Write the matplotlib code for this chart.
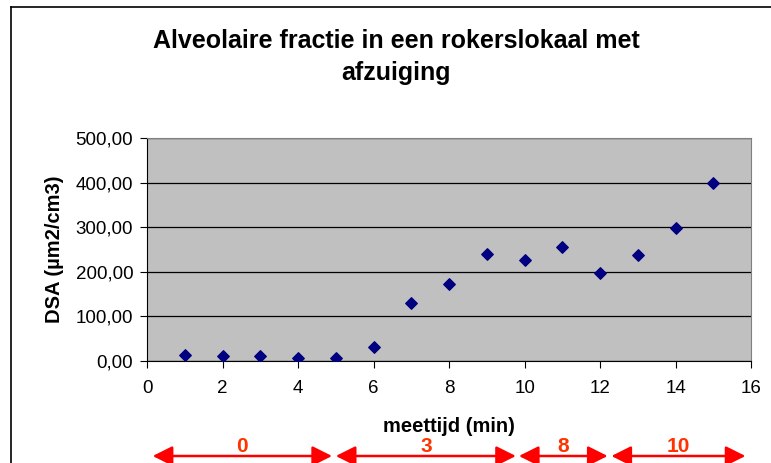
import matplotlib
matplotlib.use('Agg')
import matplotlib.pyplot as plt
import matplotlib.transforms as mtransforms
from matplotlib.ticker import FuncFormatter

plt.rcParams['font.family'] = ['Liberation Sans', 'DejaVu Sans']

# meetwaarden
meettijd = [1, 2, 3, 4, 5, 6, 7, 8, 9, 10, 11, 12, 13, 14, 15]
dsa = [14.4, 10.6, 10.6, 6.8, 6.8, 32.4, 129.7, 172.4, 240.4, 226.3, 255.5, 197.8, 236.8, 298.2, 398.7]

# fasen (aantal sigaretten) onder de x-as
fase_start = [0.15, 5.0, 9.85, 12.3]
fase_eind = [4.9, 9.77, 12.2, 15.85]
fase_label = ['0', '3', '8', '10']

fig = plt.figure(figsize=(7.71, 4.63), dpi=100)
ax = fig.add_axes([0.1907, 0.2203, 0.7835, 0.4817])

ax.set_facecolor('#C0C0C0')
ax.scatter(meettijd, dsa, marker='D', s=34, color='#000080', zorder=3)

ax.set_xlim(0, 16)
ax.set_ylim(0, 500)
ax.set_xticks(range(0, 17, 2))
ax.set_yticks(range(0, 501, 100))
ax.yaxis.set_major_formatter(FuncFormatter(lambda v, p: f'{v:.2f}'.replace('.', ',')))
ax.grid(axis='y', color='black', lw=0.9)
ax.set_axisbelow(True)

for s in ['top', 'right']:
    ax.spines[s].set_color('#808080')
for s in ['left', 'bottom']:
    ax.spines[s].set_color('black')
ax.tick_params(direction='out', length=5, labelsize=13.5, pad=5)
ax.tick_params(axis='x', pad=9)

ax.set_xlabel('meettijd (min)', fontsize=14.5, fontweight='bold', labelpad=14)
ax.set_ylabel('DSA (µm2/cm3)', fontsize=14.5, fontweight='bold', labelpad=8)

fig.text(396 / 771, 1 - 57 / 463, 'Alveolaire fractie in een rokerslokaal met\nafzuiging',
         ha='center', va='center', fontsize=18, fontweight='bold', linespacing=1.42)

# kader rond de grafiek
fig.add_artist(plt.Line2D([11 / 771, 11 / 771], [0, 1 - 7 / 463], color='black', lw=1.2))
fig.add_artist(plt.Line2D([11 / 771, 1], [1 - 7 / 463, 1 - 7 / 463], color='black', lw=1.2))

# pijlen met fasen
trans = mtransforms.blended_transform_factory(ax.transData, fig.transFigure)
y_pijl = 1 - 456 / 463
y_tekst = 1 - 446 / 463
for x0, x1, lab in zip(fase_start, fase_eind, fase_label):
    ax.annotate('', xy=(x1, y_pijl), xytext=(x0, y_pijl), xycoords=trans, textcoords=trans,
                annotation_clip=False,
                arrowprops=dict(arrowstyle='<|-|>', color='red', lw=1.8,
                                mutation_scale=30, shrinkA=0, shrinkB=0))
    ax.text((x0 + x1) / 2, y_tekst, lab, transform=trans, ha='center', va='center',
            color='#FF3300', fontsize=15, fontweight='bold')

fig.savefig('out.png', dpi=100)
